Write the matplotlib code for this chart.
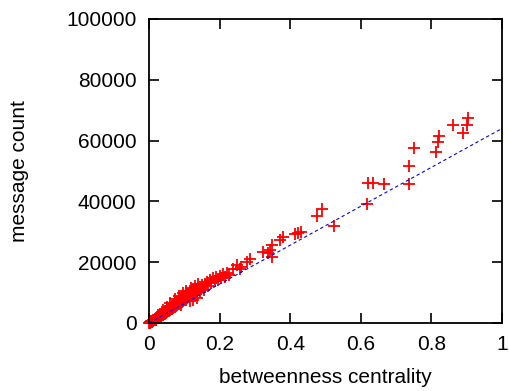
import matplotlib
matplotlib.use("Agg")
import matplotlib.pyplot as plt

plt.rcParams['font.family'] = ['Liberation Sans', 'DejaVu Sans']

# betweenness centrality vs message count
centrality = [
    0.001, 0.002, 0.002, 0.003, 0.004, 0.004, 0.005, 0.006, 0.006, 0.007,
    0.008, 0.008, 0.009, 0.010, 0.010, 0.011, 0.012, 0.012, 0.013, 0.014,
    0.015, 0.015, 0.016, 0.017, 0.018, 0.019, 0.020, 0.020, 0.021, 0.022,
    0.023, 0.024, 0.025, 0.026, 0.027, 0.028, 0.029, 0.030, 0.031, 0.032,
    0.033, 0.034, 0.035, 0.036, 0.037, 0.038, 0.039, 0.040, 0.041, 0.042,
    0.043, 0.044, 0.045, 0.046, 0.048, 0.049, 0.050, 0.051, 0.053, 0.054,
    0.055, 0.056, 0.058, 0.059, 0.060, 0.062, 0.063, 0.064, 0.066, 0.067,
    0.068, 0.070, 0.071, 0.072, 0.074, 0.075, 0.077, 0.078, 0.080, 0.081,
    0.083, 0.084, 0.086, 0.088, 0.089, 0.091, 0.093, 0.094, 0.096, 0.098,
    0.100, 0.102, 0.104, 0.106, 0.108, 0.110, 0.113, 0.115, 0.118, 0.120,
    0.123, 0.126, 0.129, 0.132, 0.135, 0.138, 0.141, 0.144, 0.147,
    0.030, 0.040, 0.050, 0.060, 0.075, 0.085, 0.095, 0.105, 0.120, 0.130,
    0.140, 0.090, 0.115, 0.125, 0.135, 0.145,
    0.150, 0.155, 0.160, 0.163, 0.168, 0.172, 0.176, 0.182, 0.186, 0.190,
    0.195, 0.201, 0.205, 0.210, 0.215, 0.220, 0.228, 0.239, 0.248, 0.258,
    0.262, 0.277, 0.286, 0.324, 0.338, 0.343, 0.348, 0.348, 0.371, 0.380,
    0.414, 0.423, 0.432, 0.477, 0.491, 0.524, 0.617, 0.621, 0.635, 0.666,
    0.737, 0.737, 0.752, 0.813, 0.818, 0.822, 0.860, 0.889, 0.900, 0.905,
]
messages = [
    50, 150, 90, 250, 200, 350, 300, 450, 380, 500,
    620, 480, 700, 650, 820, 780, 900, 720, 1000, 950,
    1150, 880, 1200, 1050, 1400, 1300, 1550, 1150, 1450, 1700,
    1500, 1850, 1600, 2050, 1800, 2200, 1900, 2400, 2100, 2600,
    2250, 2700, 2400, 2900, 2500, 3100, 2700, 3200, 2900, 3500,
    3000, 3700, 3100, 3800, 3400, 4000, 3500, 4300, 3800, 4500,
    3900, 4700, 4100, 4900, 4300, 5200, 4500, 5500, 4700, 5700,
    5000, 6100, 5200, 6400, 5400, 6600, 5700, 6900, 5900, 7200,
    6200, 7500, 6400, 7700, 6700, 8100, 6900, 8400, 7300, 8600,
    7500, 8900, 7800, 9300, 8200, 9500, 8500, 9900, 8900, 10300,
    9300, 10800, 9700, 11200, 10200, 11500, 10700, 12000, 11300,
    3100, 4200, 5200, 6500, 7800, 8800, 9800, 10500, 11500, 12200,
    12800, 6000, 7200, 7600, 8300, 10200,
    12500, 11000, 12800, 13600, 12200, 14000, 13000, 14700, 13800, 15200,
    14300, 15500, 14800, 16000, 15000, 16300, 15800, 17700, 19100, 17700,
    18500, 20200, 20900, 23200, 22900, 24000, 25700, 21800, 27300, 28400,
    29300, 29500, 30000, 35200, 37400, 32000, 39100, 46000, 46000, 45700,
    51700, 45600, 57500, 56400, 59600, 61500, 65100, 62400, 65100, 67300,
]

# linear fit through the origin
fit_slope = 64000
fit_x = [0, 1]

xticks = [0, 0.2, 0.4, 0.6, 0.8, 1]
xticklabels = ['0', '0.2', '0.4', '0.6', '0.8', '1']
yticks = [0, 20000, 40000, 60000, 80000, 100000]

fig = plt.figure(figsize=(5.09, 3.91), dpi=100)
ax = fig.add_axes([149 / 509, 68 / 391, 353 / 509, 304 / 391])

ax.plot(fit_x, [fit_slope * v for v in fit_x], color='#0000ff', linewidth=0.8,
        dashes=(3, 2.5), zorder=3)
ax.plot(centrality, messages, linestyle='none', marker='+', color='#ff0000',
        markersize=9, markeredgewidth=1.3, clip_on=False, zorder=2)

ax.set_xlim(0, 1)
ax.set_ylim(0, 100000)
ax.set_xticks(xticks)
ax.set_xticklabels(xticklabels)
ax.set_yticks(yticks)
ax.tick_params(direction='in', length=7, width=1.2, top=True, right=True,
               labelsize=15, pad=9)
for s in ax.spines.values():
    s.set_linewidth(1.3)

ax.set_xlabel('betweenness centrality', fontsize=15, labelpad=10)
ax.set_ylabel('message count', fontsize=15, labelpad=27)

fig.savefig('out.png', dpi=100)
